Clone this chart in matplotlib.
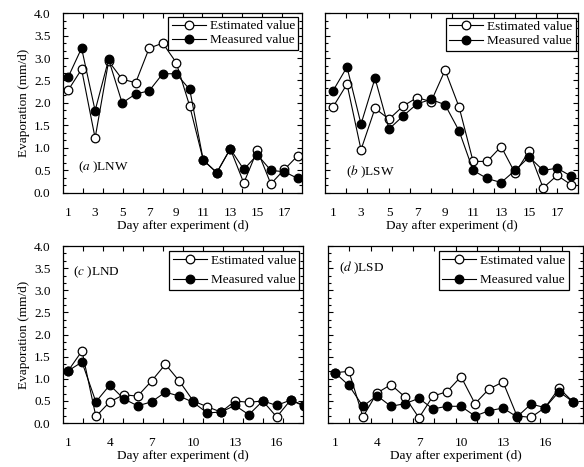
import numpy as np
import matplotlib
matplotlib.use("Agg")
import matplotlib.pyplot as plt
from matplotlib.ticker import FixedLocator, MultipleLocator, AutoMinorLocator

matplotlib.rcParams.update({
    'font.family': 'Liberation Serif',
    'mathtext.fontset': 'stix',
    'font.size': 9,
    'axes.linewidth': 0.9,
})

# Day after experiment
days = list(range(1, 19))

# (a) LNW
a_est = [2.28, 2.75, 1.22, 2.93, 2.53, 2.45, 3.22, 3.33, 2.90, 1.93, 0.73, 0.45, 0.98, 0.22, 0.95, 0.20, 0.52, 0.83]
a_meas = [2.57, 3.22, 1.83, 2.97, 2.00, 2.20, 2.27, 2.65, 2.65, 2.30, 0.73, 0.45, 0.98, 0.52, 0.85, 0.50, 0.47, 0.32]

# (b) LSW
b_est = [1.91, 2.42, 0.96, 1.88, 1.64, 1.93, 2.12, 2.03, 2.73, 1.91, 0.70, 0.70, 1.03, 0.44, 0.93, 0.11, 0.39, 0.18]
b_meas = [2.27, 2.80, 1.53, 2.55, 1.42, 1.71, 1.98, 2.08, 1.96, 1.38, 0.50, 0.32, 0.23, 0.50, 0.80, 0.50, 0.55, 0.37]

# (c) LND
c_est = [1.18, 1.63, 0.15, 0.48, 0.64, 0.61, 0.95, 1.33, 0.95, 0.50, 0.37, 0.25, 0.50, 0.47, 0.50, 0.14, 0.52, 0.40]
c_meas = [1.18, 1.38, 0.48, 0.86, 0.55, 0.39, 0.48, 0.70, 0.61, 0.47, 0.23, 0.25, 0.40, 0.19, 0.50, 0.40, 0.52, 0.38]

# (d) LSD
d_est = [1.14, 1.17, 0.14, 0.68, 0.87, 0.59, 0.12, 0.61, 0.71, 1.05, 0.44, 0.77, 0.93, 0.16, 0.13, 0.35, 0.79, 0.48]
d_meas = [1.14, 0.85, 0.38, 0.62, 0.38, 0.44, 0.56, 0.32, 0.38, 0.38, 0.16, 0.28, 0.34, 0.14, 0.43, 0.35, 0.71, 0.48]

ticks_top = [1, 3, 5, 7, 9, 11, 13, 15, 17]
ticks_bottom = [1, 4, 7, 10, 13, 16]


def draw_panel(ax, est, meas, xlim, xticks, label, label_pos, legend_anchor,
               show_y, spacing=0.15):
    ax.plot(days, est, '-o', color='black', mfc='white', mec='black',
            ms=6.2, lw=0.8, mew=0.9, label='Estimated value')
    ax.plot(days, meas, '-o', color='black', mfc='black', mec='black',
            ms=6.2, lw=0.8, mew=0.9, label='Measured value')

    ax.set_xlim(*xlim)
    ax.set_ylim(0, 4.0)

    # labels at the days, tick marks split the axis in 12 parts
    ax.set_xticks(xticks)
    step = (xlim[1] - xlim[0]) / 12
    ax.xaxis.set_minor_locator(FixedLocator([xlim[0] + k * step for k in range(1, 12)]))
    ax.tick_params(axis='x', which='major', length=0, pad=10, labelsize=9.5)
    ax.tick_params(axis='x', which='minor', direction='in', length=3.5, width=0.8,
                   top=True, bottom=True)

    ax.yaxis.set_major_locator(MultipleLocator(0.5))
    ax.yaxis.set_minor_locator(AutoMinorLocator(3))
    ax.tick_params(axis='y', which='both', direction='in', left=True, right=True, width=0.8)
    ax.tick_params(axis='y', which='major', length=3.5, pad=9, labelsize=9.5)
    ax.tick_params(axis='y', which='minor', length=2)
    if show_y:
        ax.set_yticklabels([f"{v:.1f}" for v in ax.get_yticks()])
        ax.set_ylabel("Evaporation (mm/d)", fontsize=9.5, labelpad=3)
    else:
        ax.tick_params(axis='y', labelleft=False)

    ax.set_xlabel("Day after experiment (d)", fontsize=9.5, labelpad=1)

    ax.text(label_pos[0], label_pos[1], label, transform=ax.transAxes,
            fontsize=9.5, va='center', ha='left')

    leg = ax.legend(loc='upper right', bbox_to_anchor=legend_anchor, fontsize=9.5,
                    frameon=True, fancybox=False, edgecolor='black', framealpha=1,
                    handlelength=2.6, handletextpad=0.3, borderpad=0.25,
                    labelspacing=spacing, borderaxespad=0)
    leg.get_frame().set_linewidth(0.9)


fig = plt.figure(figsize=(5.84, 4.67), dpi=100)

ax_a = fig.add_axes([0.108, 0.587, 0.409, 0.385])
ax_b = fig.add_axes([0.557, 0.587, 0.433, 0.385])
ax_c = fig.add_axes([0.108, 0.094, 0.411, 0.379])
ax_d = fig.add_axes([0.562, 0.094, 0.436, 0.379])

draw_panel(ax_a, a_est, a_meas, (0.63, 18.3), ticks_top, r"($\mathit{a}$ )LNW",
           (0.063, 0.144), (0.985, 0.98), True)
draw_panel(ax_b, b_est, b_meas, (0.45, 18.5), ticks_top, r"($\mathit{b}$ )LSW",
           (0.08, 0.117), (0.99, 0.975), False)
draw_panel(ax_c, c_est, c_meas, (0.64, 17.9), ticks_bottom, r"($\mathit{c}$ )LND",
           (0.042, 0.85), (0.985, 0.97), True, spacing=0.55)
draw_panel(ax_d, d_est, d_meas, (0.52, 18.7), ticks_bottom, r"($\mathit{d}$ )LSD",
           (0.043, 0.88), (0.945, 0.97), False, spacing=0.55)

fig.savefig("out.png", dpi=100)
